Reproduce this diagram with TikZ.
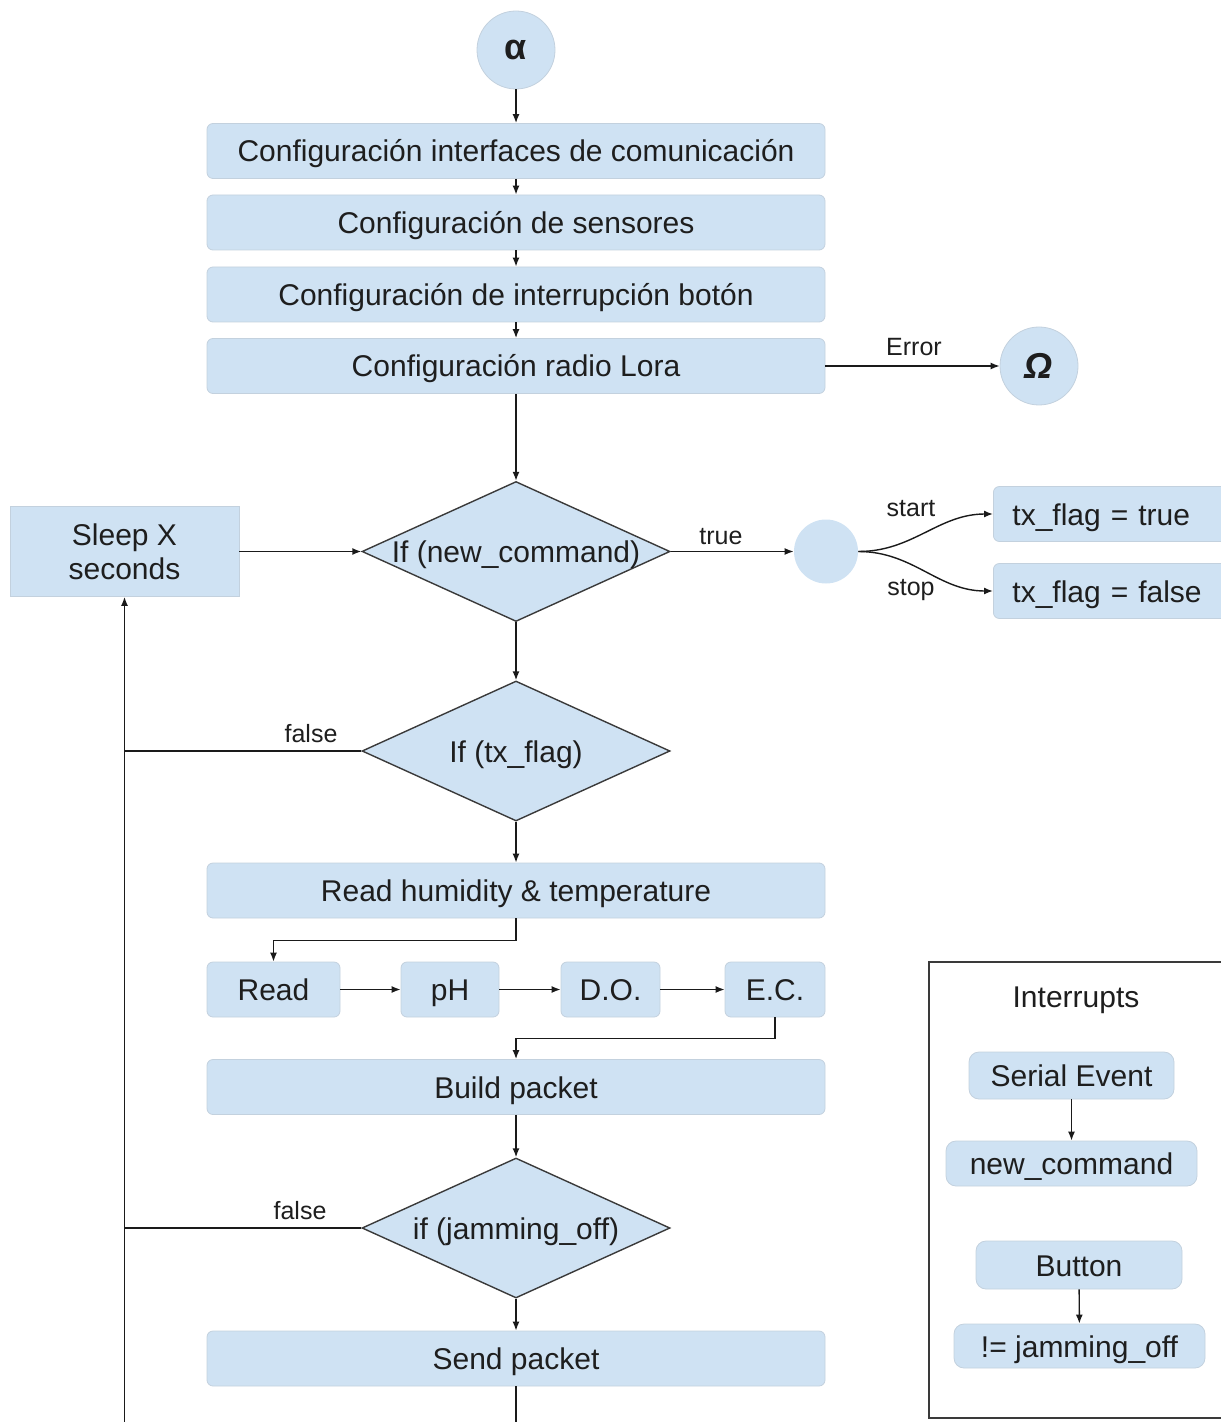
\documentclass[tikz,border=0pt]{standalone}
\usepackage{fontspec}
\setmainfont{Liberation Sans}
\usetikzlibrary{shapes.geometric,arrows.meta}
\definecolor{boxblue}{HTML}{CFE2F3}
\definecolor{boxedge}{HTML}{C3D1DE}
\definecolor{lineclr}{HTML}{1A1A1A}
\definecolor{diaedge}{HTML}{3A3A3A}
\definecolor{txtclr}{HTML}{1E1E1E}

\begin{document}
\begin{tikzpicture}[x=0.5pt,y=-0.5pt,
  txt/.style={font=\fontsize{15}{17}\selectfont, text=txtclr},
  oneline/.style={text height=11pt, text depth=0pt},
  lbl/.style={font=\fontsize{12.5}{14}\selectfont, text=txtclr, inner sep=0pt, text height=9pt, text depth=0pt},
  stepbox/.style={txt, rectangle, rounded corners=3pt, fill=boxblue, draw=boxedge, line width=0.4pt, inner sep=0pt},
  widebox/.style={stepbox, oneline, minimum width=309pt, minimum height=27.5pt},
  chipbox/.style={stepbox, oneline, minimum width=#1, minimum height=27.5pt},
  intbox/.style={stepbox, oneline, rounded corners=5pt},
  decision/.style={txt, oneline, diamond, fill=boxblue, draw=diaedge, line width=0.7pt, inner sep=0pt, minimum width=154pt, minimum height=70pt},
  termcircle/.style={circle, fill=boxblue, draw=boxedge, line width=0.4pt, inner sep=0pt, minimum size=#1, text=txtclr},
  flowarrow/.style={draw=lineclr, line width=0.7pt, -{Latex[length=4.5pt,width=3.5pt]}},
  flowline/.style={draw=lineclr, line width=0.7pt},
]
\useasboundingbox (0,0) rectangle (1220,1422);

% main column
\node[termcircle=39pt, font=\fontsize{18}{20}\selectfont\bfseries] (alpha) at (516,50) {α};
\node[widebox] (cfgcom) at (516,151) {Configuración interfaces de comunicación};
\node[widebox] (cfgsens) at (516,222.5) {Configuración de sensores};
\node[widebox] (cfgbtn) at (516,294.5) {Configuración de interrupción botón};
\node[widebox] (cfglora) at (516,366) {Configuración radio Lora};
\node[termcircle=39pt, font=\fontsize{18}{20}\selectfont\bfseries\itshape] (omega) at (1039,366) {Ω};

\node[decision] (dcmd) at (516,551.5) {\makebox[0pt]{If (new\_command)}};
\node[stepbox, rounded corners=0pt, minimum width=114.5pt, minimum height=45pt, align=center] (sleep) at (124.5,551.5) {Sleep X\\seconds};
\node[termcircle=32pt, draw=none] (sel) at (826,551.5) {};
\node[stepbox, oneline, anchor=west, text width=100pt, inner xsep=9.5pt, minimum height=27.5pt, align=left] (txon) at (993,514) {tx\_flag = true};
\node[stepbox, oneline, anchor=west, text width=100pt, inner xsep=9.5pt, minimum height=27.5pt, align=left] (txoff) at (993,591) {tx\_flag = false};

\node[decision] (dtx) at (516,751) {\makebox[0pt]{If (tx\_flag)}};
\node[widebox] (hum) at (516,890.5) {Read humidity \& temperature};
\node[chipbox=66.5pt] (read) at (273.5,989.5) {Read};
\node[chipbox=49pt] (ph) at (450,989.5) {pH};
\node[chipbox=49.5pt] (dox) at (610.5,989.5) {D.O.};
\node[chipbox=50pt] (ec) at (775,989.5) {E.C.};
\node[widebox] (build) at (516,1087) {Build packet};
\node[decision] (djam) at (516,1228) {\makebox[0pt]{if (jamming\_off)}};
\node[widebox] (send) at (516,1358.5) {Send packet};

% edge labels
\node[lbl] (lerr) at (914,347) {Error};
\node[lbl] (ltrue) at (721,535) {true};
\node[lbl] (lstart) at (911,507) {start};
\node[lbl] (lstop) at (911,586) {stop};
\node[lbl] (lfalse1) at (311,733) {false};
\node[lbl] (lfalse2) at (300,1210) {false};

% connectors
\draw[flowarrow] (alpha) -- (cfgcom);
\draw[flowarrow] (cfgcom) -- (cfgsens);
\draw[flowarrow] (cfgsens) -- (cfgbtn);
\draw[flowarrow] (cfgbtn) -- (cfglora);
\draw[flowarrow] (cfglora) -- (omega);
\draw[flowarrow] (cfglora) -- (dcmd);
\draw[flowarrow] (sleep) -- (dcmd);
\draw[flowarrow] (dcmd) -- (sel);
\draw[flowarrow] (sel.east) to[out=0,in=180] (txon.west);
\draw[flowarrow] (sel.east) to[out=0,in=180] (txoff.west);
\draw[flowarrow] (dcmd) -- (dtx);
\coordinate (loopbase) at (124.5,1430);
\draw[flowline] (dtx.west) -- (dtx.west -| sleep.south);
\draw[flowarrow] (loopbase) -- (sleep.south);
\draw[flowarrow] (dtx) -- (hum);
\draw[flowarrow] (hum.south) -- ++(0,22) -| (read.north);
\draw[flowarrow] (read) -- (ph);
\draw[flowarrow] (ph) -- (dox);
\draw[flowarrow] (dox) -- (ec);
\draw[flowarrow] (ec.south) -- ++(0,21) -| (build.north);
\draw[flowarrow] (build) -- (djam);
\draw[flowline] (djam.west) -- (djam.west -| sleep.south);
\draw[flowarrow] (djam) -- (send);
\draw[flowline] (send.south) -- (send.south |- loopbase);

% interrupts panel
\draw[draw=diaedge, line width=0.7pt] (929,962) rectangle (1240,1418);
\node[txt, oneline] (inttitle) at (1076,996) {Interrupts};
\node[intbox, minimum width=102.5pt, minimum height=23.5pt] (serial) at (1071.5,1075.5) {Serial Event};
\node[intbox, minimum width=125.5pt, minimum height=22.5pt] (newcmd) at (1071.5,1163.5) {new\_command};
\node[intbox, minimum width=103pt, minimum height=24pt] (button) at (1079,1265) {Button};
\node[intbox, minimum width=125.5pt, minimum height=22pt] (notjam) at (1079.5,1346) {!= jamming\_off};
\draw[flowarrow] (serial) -- (newcmd);
\draw[flowarrow] (button) -- (notjam);
\end{tikzpicture}
\end{document}
